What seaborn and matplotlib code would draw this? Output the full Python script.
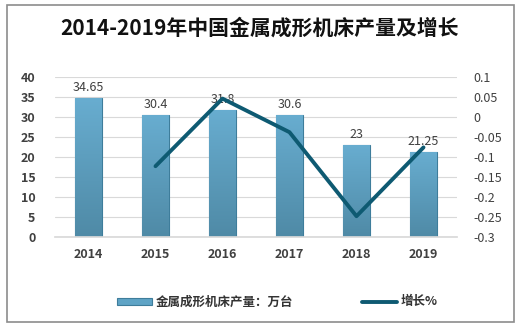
import numpy as np
import pandas as pd
import matplotlib
matplotlib.use("Agg")
import matplotlib.pyplot as plt
import seaborn as sns
from matplotlib.patches import Rectangle
from matplotlib.lines import Line2D
from matplotlib.patches import Patch
from matplotlib.colors import LinearSegmentedColormap

years = ["2014", "2015", "2016", "2017", "2018", "2019"]
output = [34.65, 30.4, 31.8, 30.6, 23, 21.25]
growth = [np.nan, -0.123, 0.046, -0.038, -0.248, -0.076]
bar_labels = ["34.65", "30.4", "31.8", "30.6", "23", "21.25"]

sns.set_theme(style="white")
plt.rcParams['font.family'] = ['Noto Sans CJK SC', 'DejaVu Sans']

fig = plt.figure(figsize=(5.2, 3.27), dpi=100)
fig.patch.set_facecolor("white")
fig.add_artist(Rectangle((7/520, 5/327), 507/520, 317/327, transform=fig.transFigure,
                         fill=False, edgecolor="#8c8c8c", lw=1.2))

ax = fig.add_axes([55/520, 1-237/327, 402/520, 160/327])
df = pd.DataFrame({"year": years, "output": output})
sns.barplot(data=df, x="year", y="output", ax=ax, color="#5a9fc2", width=0.4,
            edgecolor="#3e7d9b", linewidth=0.8, saturation=1)
ax.set_ylim(0, 40)
ax.set_xlim(-0.5, 5.5)

# vertical gradient fill clipped to each bar
cmap = LinearSegmentedColormap.from_list("g", ["#4f8aa6", "#68add0"])
grad = np.linspace(0, 1, 256).reshape(-1, 1)
for p in list(ax.patches):
    x0, y0 = p.get_x(), p.get_y()
    w, h = p.get_width(), p.get_height()
    im = ax.imshow(grad, cmap=cmap, aspect="auto", origin="lower",
                   extent=[x0, x0 + w, y0, y0 + h], zorder=p.get_zorder() + 0.1)
    im.set_clip_path(p)
    p.set_zorder(p.get_zorder())
ax.set_ylim(0, 40)
ax.set_xlim(-0.5, 5.5)
ax.set_aspect("auto")

ax.set_yticks(range(0, 45, 5))
ax.yaxis.grid(True, color="#d9d9d9", lw=0.8)
ax.set_axisbelow(True)
for s in ax.spines.values():
    s.set_visible(False)
ax.spines["bottom"].set_visible(True)
ax.spines["bottom"].set_color("#d9d9d9")
ax.set_xlabel("")
ax.set_ylabel("")
ax.tick_params(axis="y", length=0, pad=14, labelsize=9, labelcolor="#404040")
ax.tick_params(axis="x", length=0, pad=8, labelsize=9, labelcolor="#404040")
for lab in ax.get_yticklabels() + ax.get_xticklabels():
    lab.set_fontweight("bold")
for i, (v, t) in enumerate(zip(output, bar_labels)):
    ax.text(i, v + 1.0, t, ha="center", va="bottom", fontsize=9, color="#404040", zorder=5)

ax2 = ax.twinx()
ldf = pd.DataFrame({"x": list(range(len(years))), "growth": growth}).dropna()
sns.lineplot(data=ldf, x="x", y="growth", ax=ax2, color="#0e5a72", lw=2.8)
ax2.set_ylim(-0.3, 0.1)
ax2.set_yticks([0.1, 0.05, 0, -0.05, -0.1, -0.15, -0.2, -0.25, -0.3])
ax2.set_yticklabels(["0.1", "0.05", "0", "-0.05", "-0.1", "-0.15", "-0.2", "-0.25", "-0.3"])
ax2.set_xlim(-0.5, 5.5)
ax2.set_ylabel("")
ax2.set_xlabel("")
for s in ax2.spines.values():
    s.set_visible(False)
ax2.tick_params(axis="y", length=0, pad=12, labelsize=9, labelcolor="#404040")

fig.text(0.5, 1-28/327, "2014-2019年中国金属成形机床产量及增长", ha="center", va="center",
         fontsize=15, fontweight="bold", color="#111111")

handles = [Patch(facecolor="#5fa4c6", edgecolor="#3e7d9b", lw=0.8),
           Line2D([0], [0], color="#0e5a72", lw=2.8)]
fig.legend(handles, ["金属成形机床产量：万台", "增长%"], loc="center",
           bbox_to_anchor=(277/520, 1-302/327), ncol=2, frameon=False,
           prop={"size": 9, "weight": "bold"}, columnspacing=5.5, handlelength=2.8,
           handleheight=0.5, handletextpad=0.3, labelcolor="#333333")

fig.savefig("out.png", dpi=100)
